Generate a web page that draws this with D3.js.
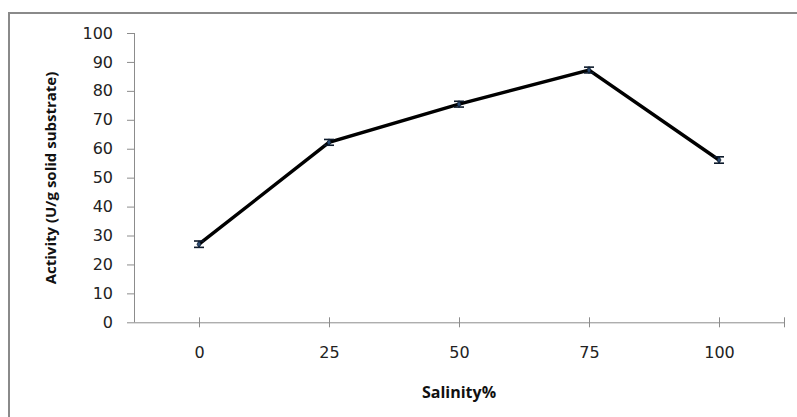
<!DOCTYPE html>
<html>
<head>
<meta charset="utf-8">
<script src="https://cdn.jsdelivr.net/npm/d3@7"></script>
<style>
  html, body { margin: 0; padding: 0; background: #fff; }
  svg { display: block; }
</style>
</head>
<body>
<script>
// Enzyme activity versus salinity
const salinity = [0, 25, 50, 75, 100];
const activity = [27.0, 62.2, 75.4, 87.2, 56.1];
const errors = [1.1, 1.0, 1.0, 1.0, 1.1];
const yTicks = [0, 10, 20, 30, 40, 50, 60, 70, 80, 90, 100];
const xTickLabels = ["0", "25", "50", "75", "100"];

const W = 797, H = 417;
const svg = d3.select("body").append("svg").attr("width", W).attr("height", H);

// outer frame (only left and top edges fall inside the view)
svg.append("path")
  .attr("d", `M9,${H + 5} L9,13 L${W + 5},13`)
  .attr("fill", "none").attr("stroke", "#8a8a8a").attr("stroke-width", 2);

const plot = { left: 134, right: 784, top: 33, bottom: 322.3 };

const x = d3.scaleLinear().domain([-12.5, 112.5]).range([plot.left, plot.right]);
const y = d3.scaleLinear().domain([0, 100]).range([plot.bottom, plot.top]);

const axisColor = "#8c8c8c";
const tickFont = "'DejaVu Sans', Verdana, sans-serif";

// y axis
const yAxis = svg.append("g")
  .attr("transform", `translate(${plot.left},0)`)
  .call(d3.axisLeft(y).tickValues(yTicks).tickSize(7).tickPadding(14).tickFormat(d3.format("d")));
yAxis.select(".domain").attr("stroke", axisColor).attr("d", `M0.5,${plot.top}V${plot.bottom}`);
yAxis.selectAll(".tick line").attr("stroke", axisColor);
yAxis.selectAll(".tick text")
  .attr("fill", "#222").style("font-family", tickFont).style("font-size", "16px");

// x axis: ticks cross the axis line, plus one unlabeled tick at the right end
const xAxis = svg.append("g")
  .attr("transform", `translate(0,${plot.bottom})`)
  .call(d3.axisBottom(x).tickValues(salinity.concat([112.5])).tickSize(5).tickPadding(19)
    .tickFormat((d, i) => i < xTickLabels.length ? xTickLabels[i] : ""));
xAxis.select(".domain").attr("stroke", axisColor).attr("d", `M${plot.left},0.5H${plot.right}`);
xAxis.selectAll(".tick line").attr("stroke", axisColor).attr("y1", -5).attr("y2", 5);
xAxis.selectAll(".tick text")
  .attr("fill", "#222").style("font-family", tickFont).style("font-size", "16px");

// axis titles
svg.append("text")
  .attr("transform", `translate(56,178) rotate(-90)`)
  .attr("text-anchor", "middle")
  .style("font-family", "'Open Sans', sans-serif").style("font-weight", "bold").style("font-size", "15px")
  .attr("fill", "#111")
  .text("Activity (U/g solid substrate)");

svg.append("text")
  .attr("x", 459).attr("y", 398)
  .attr("text-anchor", "middle")
  .style("font-family", "'Open Sans', sans-serif").style("font-weight", "bold").style("font-size", "16px")
  .attr("fill", "#111")
  .text("Salinity%");

const pts = salinity.map((s, i) => ({ s, v: activity[i], e: errors[i] }));

// data line
svg.append("path")
  .datum(pts)
  .attr("fill", "none").attr("stroke", "#000").attr("stroke-width", 3.4)
  .attr("stroke-linejoin", "miter")
  .attr("d", d3.line().x(d => x(d.s)).y(d => y(d.v)));

// error bars
const eb = svg.append("g").attr("stroke", "#0d1a2b").attr("stroke-width", 1.6);
pts.forEach(d => {
  const cx = x(d.s);
  eb.append("line").attr("x1", cx).attr("x2", cx).attr("y1", y(d.v + d.e)).attr("y2", y(d.v - d.e));
  eb.append("line").attr("x1", cx - 5).attr("x2", cx + 5).attr("y1", y(d.v + d.e)).attr("y2", y(d.v + d.e));
  eb.append("line").attr("x1", cx - 5).attr("x2", cx + 5).attr("y1", y(d.v - d.e)).attr("y2", y(d.v - d.e));
});

// markers
svg.append("g").selectAll("path").data(pts).join("path")
  .attr("transform", d => `translate(${x(d.s)},${y(d.v)})`)
  .attr("d", d3.symbol(d3.symbolDiamond, 14))
  .attr("fill", "#2b4a72").attr("stroke", "#0d1a2b").attr("stroke-width", 0.8);
</script>
</body>
</html>
